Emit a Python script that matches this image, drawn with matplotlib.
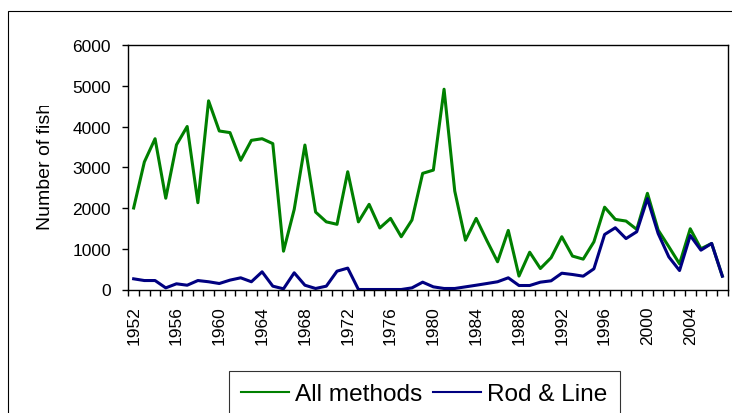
import matplotlib
matplotlib.use('Agg')
import matplotlib.pyplot as plt
from matplotlib.lines import Line2D
from matplotlib.patches import Rectangle
from matplotlib.transforms import Bbox, TransformedBbox

plt.rcParams['font.family'] = ['Liberation Sans', 'DejaVu Sans']

years = list(range(1952, 2008))
all_methods = [2000, 3130, 3700, 2240, 3550, 4000, 2130, 4630, 3890, 3850,
               3170, 3660, 3700, 3580, 940, 1965, 3545, 1900, 1660, 1600,
               2890, 1660, 2090, 1510, 1745, 1295, 1705, 2850, 2930, 4915,
               2415, 1210, 1745, 1200, 680, 1450, 330, 915, 515, 780,
               1295, 820, 745, 1170, 2020, 1720, 1680, 1475, 2360, 1460,
               1050, 630, 1490, 1000, 1130, 330]
rod_line = [262, 220, 220, 40, 140, 105, 220, 190, 147, 230,
            287, 190, 434, 82, 17, 410, 105, 25, 82, 450,
            525, 0, 0, 0, 0, 0, 40, 180, 65, 25,
            25, 65, 105, 147, 190, 287, 98, 98, 180, 213,
            400, 368, 327, 508, 1350, 1515, 1250, 1417, 2230, 1375,
            800, 465, 1325, 965, 1130, 327]
label_years = list(range(1952, 2008, 4))

W, H = 732, 414
fig = plt.figure(figsize=(W / 100, H / 100), dpi=100)

# outer chart border (runs off the right and bottom edges)
fig.patches.append(Rectangle((8 / W, -0.2), 2, 1 - 12 / H + 0.2, transform=fig.transFigure,
                             fill=False, edgecolor='black', lw=0.8))

ax = fig.add_axes([128.3 / W, 1 - 290.5 / H, 599.4 / W, 244.5 / H])
ax.plot(years, all_methods, color='#008000', lw=2.2, solid_joinstyle='round')
ax.plot(years, rod_line, color='#000080', lw=2.2, solid_joinstyle='round')

ax.set_xlim(1951.5, 2007.5)
ax.set_ylim(0, 6000)
ax.set_yticks(range(0, 6001, 1000))
ax.tick_params(axis='y', direction='out', length=4, width=1, pad=8.5, labelsize=12.5)

ax.set_xticks(label_years)
ax.set_xticklabels([str(y) for y in label_years], rotation=90)
ax.set_xticks([y - 0.5 for y in years] + [2007.5], minor=True)
ax.tick_params(axis='x', which='major', length=0, pad=11.5, labelsize=12.5)
ax.tick_params(axis='x', which='minor', direction='out', length=4, width=1)

for s in ax.spines.values():
    s.set_linewidth(1)
    s.set_color('black')

# axis title, cut off at the top as in the original
t = fig.text(46 / W, 1 - 166 / H, 'Number of fish', rotation=90, ha='center', va='center',
             fontsize=14)
t.set_clip_box(TransformedBbox(Bbox([[0, 0], [1, 1 - 107 / H]]), fig.transFigure))
t.set_clip_on(True)

handles = [Line2D([], [], color='#008000', lw=1.5), Line2D([], [], color='#000080', lw=1.5)]
leg = fig.legend(handles, ['All methods', 'Rod & Line'], loc='upper left',
                 bbox_to_anchor=(229 / W, 1 - 372 / H), bbox_transform=fig.transFigure,
                 ncol=2, fontsize=17.6, frameon=True, fancybox=False, borderaxespad=0,
                 borderpad=0.5, handlelength=1.95, handletextpad=0.25, columnspacing=0.45)
leg.get_frame().set_edgecolor('black')
leg.get_frame().set_linewidth(0.8)

fig.savefig('out.png', dpi=100)
